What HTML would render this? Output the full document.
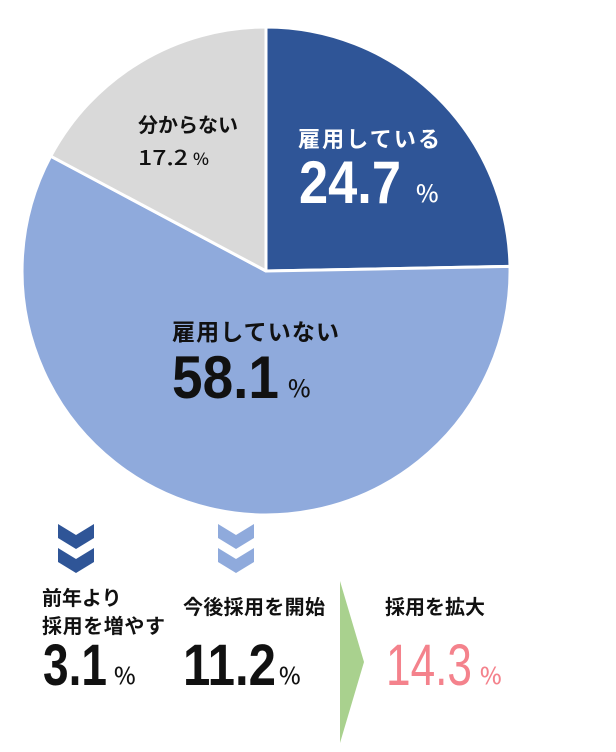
<!DOCTYPE html>
<html><head><meta charset="utf-8"><style>
html,body{margin:0;padding:0;background:#fff}
svg{display:block}
text{font-family:"Liberation Sans","Noto Sans CJK JP",sans-serif}
.j{font-family:"Noto Sans CJK JP",sans-serif;font-weight:bold}
.n{font-family:"Noto Sans CJK JP",sans-serif;font-weight:500}
.b{font-family:"Liberation Sans",sans-serif;font-weight:bold}
</style></head><body>
<svg width="616" height="752" viewBox="0 0 616 752">
<g stroke="#fff" stroke-width="3" stroke-linejoin="round">
<path d="M266,271 L266,27 A244,244 0 0 1 510,266.4 Z" fill="#2F5597"/>
<path d="M266,271 L510,266.4 A244,244 0 1 1 50.7,156.2 Z" fill="#8FAADC"/>
<path d="M266,271 L50.7,156.2 A244,244 0 0 1 266,27 Z" fill="#D9D9D9"/>
</g>
<text class="j" x="298" y="147" font-size="22" fill="#fff" textLength="142">雇用している</text>
<text class="b" x="299" y="203" font-size="60" fill="#fff" textLength="102" lengthAdjust="spacingAndGlyphs">24.7</text>
<text class="n" x="416" y="202" font-size="24" fill="#fff">%</text>
<text class="j" x="138" y="132" font-size="20" fill="#111" textLength="100">分からない</text>
<text class="n" x="138" y="165" font-size="21" fill="#111" textLength="50" lengthAdjust="spacingAndGlyphs">17.2</text>
<text class="n" x="193" y="165" font-size="17" fill="#111">%</text>
<text class="j" x="172" y="340" font-size="23" fill="#111" textLength="167">雇用していない</text>
<text class="b" x="172" y="398" font-size="60" fill="#111" textLength="107" lengthAdjust="spacingAndGlyphs">58.1</text>
<text class="n" x="288" y="397" font-size="24" fill="#111">%</text>
<g fill="#2F5597">
<path d="M58,524 L76,535 L94,524 L94,538 L76,549 L58,538 Z"/>
<path d="M58,548 L76,559 L94,548 L94,562 L76,573 L58,562 Z"/>
</g>
<g fill="#8FAADC">
<path d="M218,524 L236,535 L254,524 L254,538 L236,549 L218,538 Z"/>
<path d="M218,548 L236,559 L254,548 L254,562 L236,573 L218,562 Z"/>
</g>
<path d="M340,581 L364,662 L340,743 Z" fill="#A9D18E"/>
<text class="j" x="42" y="605" font-size="20" fill="#111">前年より</text>
<text class="j" x="42" y="633" font-size="20" fill="#111" textLength="123">採用を増やす</text>
<text class="b" x="43" y="685" font-size="58" fill="#111" textLength="64" lengthAdjust="spacingAndGlyphs">3.1</text>
<text class="n" x="114" y="684" font-size="23" fill="#111">%</text>
<text class="j" x="183" y="614" font-size="20" fill="#111" textLength="142">今後採用を開始</text>
<text class="b" x="183" y="685" font-size="58" fill="#111" textLength="93" lengthAdjust="spacingAndGlyphs">11.2</text>
<text class="n" x="279" y="684" font-size="23" fill="#111">%</text>
<text class="j" x="385" y="614" font-size="20" fill="#111" textLength="100">採用を拡大</text>
<text x="386" y="685" font-size="58" fill="#F4828C" textLength="86" lengthAdjust="spacingAndGlyphs">14.3</text>
<text class="n" x="480" y="684" font-size="23" fill="#F4828C" font-weight="400">%</text>
</svg>
</body></html>
